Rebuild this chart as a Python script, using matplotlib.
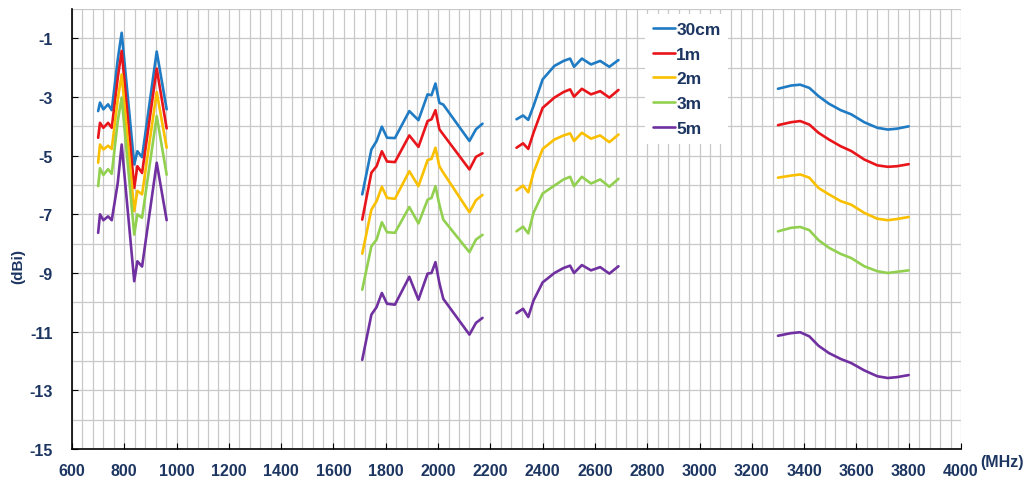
import matplotlib.pyplot as plt
from matplotlib.ticker import MultipleLocator

plt.rcParams['font.family'] = ['Liberation Sans', 'DejaVu Sans']
plt.rcParams['font.weight'] = 'bold'
plt.rcParams['axes.unicode_minus'] = False

# frequency points (MHz) of the four measured bands
freq_b1 = [700, 707, 720, 738, 752, 775, 790, 838, 850, 868, 924, 962]
freq_b2 = [1710, 1745, 1765, 1785, 1805, 1835, 1890, 1925, 1960, 1975, 1990, 2005, 2020, 2120, 2145, 2170]
freq_b3 = [2300, 2325, 2345, 2365, 2400, 2445, 2480, 2505, 2520, 2550, 2585, 2620, 2655, 2690]
freq_b4 = [3300, 3350, 3385, 3420, 3455, 3495, 3540, 3580, 3630, 3680, 3720, 3755, 3800]
freqs = [freq_b1, freq_b2, freq_b3, freq_b4]

# gain (dBi) per cable length, one list per band
gain_30cm = [
    [-3.48, -3.19, -3.42, -3.25, -3.45, -1.72, -0.81, -5.3, -4.85, -5.05, -1.45, -3.42],
    [-6.32, -4.79, -4.5, -4.01, -4.39, -4.4, -3.48, -3.79, -2.91, -2.94, -2.54, -3.2, -3.26, -4.5, -4.1, -3.91],
    [-3.76, -3.63, -3.78, -3.31, -2.4, -1.94, -1.77, -1.69, -1.97, -1.69, -1.89, -1.77, -1.97, -1.74],
    [-2.72, -2.61, -2.58, -2.69, -2.97, -3.23, -3.45, -3.59, -3.86, -4.05, -4.11, -4.08, -4.0],
]
gain_1m = [
    [-4.39, -3.88, -4.05, -3.88, -4.05, -2.34, -1.43, -6.1, -5.36, -5.59, -2.03, -4.07],
    [-7.18, -5.58, -5.36, -4.85, -5.2, -5.22, -4.31, -4.7, -3.82, -3.76, -3.45, -4.1, -4.28, -5.47, -5.04, -4.92],
    [-4.73, -4.58, -4.77, -4.22, -3.37, -3.02, -2.83, -2.74, -2.99, -2.72, -2.91, -2.8, -3.02, -2.76],
    [-3.96, -3.86, -3.82, -3.94, -4.22, -4.45, -4.68, -4.84, -5.13, -5.33, -5.38, -5.36, -5.29],
]
gain_2m = [
    [-5.24, -4.62, -4.79, -4.66, -4.77, -3.08, -2.23, -6.89, -6.2, -6.32, -2.83, -4.73],
    [-8.34, -6.84, -6.55, -6.06, -6.44, -6.47, -5.53, -6.04, -5.15, -5.11, -4.73, -5.36, -5.58, -6.93, -6.52, -6.34],
    [-6.18, -6.02, -6.25, -5.58, -4.77, -4.45, -4.31, -4.24, -4.5, -4.22, -4.42, -4.31, -4.54, -4.28],
    [-5.75, -5.68, -5.64, -5.75, -6.1, -6.32, -6.55, -6.67, -6.95, -7.15, -7.2, -7.16, -7.09],
]
gain_3m = [
    [-6.04, -5.43, -5.66, -5.46, -5.62, -3.82, -3.02, -7.69, -7.0, -7.12, -3.65, -5.65],
    [-9.57, -8.09, -7.86, -7.27, -7.61, -7.63, -6.75, -7.31, -6.5, -6.44, -6.04, -6.67, -7.18, -8.29, -7.86, -7.7],
    [-7.58, -7.42, -7.65, -6.95, -6.29, -6.02, -5.81, -5.72, -6.04, -5.72, -5.95, -5.81, -6.06, -5.79],
    [-7.58, -7.46, -7.43, -7.54, -7.88, -8.14, -8.35, -8.49, -8.77, -8.94, -9.0, -8.96, -8.91],
]
gain_5m = [
    [-7.63, -7.0, -7.2, -7.07, -7.2, -5.93, -4.62, -9.28, -8.6, -8.78, -5.24, -7.2],
    [-11.96, -10.42, -10.16, -9.68, -10.05, -10.08, -9.13, -9.91, -9.02, -9.0, -8.63, -9.34, -9.88, -11.1, -10.7, -10.53],
    [-10.37, -10.22, -10.5, -9.94, -9.32, -9.0, -8.83, -8.75, -9.0, -8.73, -8.91, -8.8, -9.02, -8.77],
    [-11.14, -11.05, -11.02, -11.16, -11.48, -11.73, -11.93, -12.07, -12.32, -12.52, -12.58, -12.55, -12.48],
]

labels = ['30cm', '1m', '2m', '3m', '5m']
series = [gain_30cm, gain_1m, gain_2m, gain_3m, gain_5m]
colors = ['#1f7bc4', '#e8151b', '#fac000', '#92d050', '#7030a0']
navy = '#1c3561'

fig = plt.figure(figsize=(10.3, 4.81), dpi=100)
ax = fig.add_axes([72 / 1030, 1 - 450 / 481, (961 - 72) / 1030, 440 / 481])

for lab, gains, c in zip(labels, series, colors):
    for i, (f, g) in enumerate(zip(freqs, gains)):
        ax.plot(f, g, color=c, lw=1.9, label=lab if i == 0 else None, zorder=3,
                solid_joinstyle='round', solid_capstyle='round')

ax.set_xlim(600, 4000)
ax.set_ylim(-15, 0)
ax.xaxis.set_major_locator(MultipleLocator(200))
ax.xaxis.set_minor_locator(MultipleLocator(40))
ax.set_yticks(range(-15, 0, 2))
ax.yaxis.set_minor_locator(MultipleLocator(1))
ax.grid(which='both', color='#c8c8c8', lw=0.9, zorder=0)
ax.set_axisbelow(True)

for s in ['top', 'right']:
    ax.spines[s].set_visible(False)
for s in ['left', 'bottom']:
    ax.spines[s].set_color('black')
    ax.spines[s].set_linewidth(1.2)

ax.tick_params(axis='x', which='major', direction='in', length=4, pad=10, labelsize=11.5, labelcolor=navy)
ax.tick_params(axis='y', which='major', direction='in', length=4, pad=14, labelsize=11.5, labelcolor=navy)
ax.tick_params(which='minor', length=0)
for t in ax.get_xticklabels() + ax.get_yticklabels():
    t.set_fontweight('bold')

fig.text(18 / 1030, 1 - 267 / 481, '(dBi)', rotation=90, ha='center', va='center',
         fontsize=11, fontweight='bold', color=navy)
fig.text(1002 / 1030, 1 - 463 / 481, '(MHz)', ha='center', va='center',
         fontsize=11.5, fontweight='bold', color=navy)

leg = ax.legend(loc='upper left', bbox_to_anchor=(645 / 1030, 1 - 15 / 481),
                bbox_transform=fig.transFigure, frameon=True, fancybox=False,
                handlelength=1.25, handletextpad=0.1, labelspacing=0.55,
                borderpad=0.45, borderaxespad=0, prop={'size': 12.5, 'weight': 'bold'})
leg.get_frame().set_edgecolor('none')
leg.get_frame().set_facecolor('white')
leg.get_frame().set_alpha(1)
for t in leg.get_texts():
    t.set_color(navy)

plt.savefig('out.png', dpi=100)
